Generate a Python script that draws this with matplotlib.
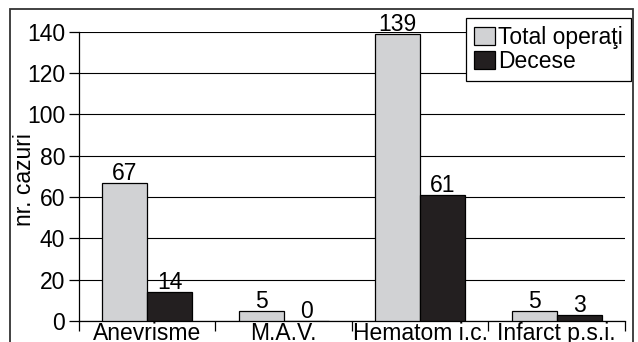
import matplotlib.pyplot as plt
from matplotlib.patches import Rectangle
import numpy as np

# --- data ---
categories = ['Anevrisme', 'M.A.V.', 'Hematom i.c.', 'Infarct p.s.i.']
total_operati = [67, 5, 139, 5]
decese = [14, 0, 61, 3]
series_names = ['Total operaţi', 'Decese']

plt.rcParams['font.family'] = ['Liberation Sans', 'DejaVu Sans']
FS = 16.5

fig = plt.figure(figsize=(6.38, 3.42), dpi=100)
ax = fig.add_axes([0.1238, 0.0614, 0.8558, 0.8459])

# frame around the whole figure (open at the bottom)
fig.patches.append(Rectangle((10 / 638, -0.2), 623 / 638, 1.2 - 9.5 / 342,
                             transform=fig.transFigure, fill=False,
                             edgecolor='#333333', linewidth=1.3))

x = np.arange(len(categories))
w = 0.33
b1 = ax.bar(x - w / 2, total_operati, w, color='#d1d2d4', edgecolor='black',
            linewidth=0.9, label=series_names[0], zorder=3)
b2 = ax.bar(x + w / 2, decese, w, color='#231f20', edgecolor='black',
            linewidth=0.9, label=series_names[1], zorder=3)

# value labels on top of each bar
for bars, vals in ((b1, total_operati), (b2, decese)):
    for bar, v in zip(bars, vals):
        ax.text(bar.get_x() + bar.get_width() / 2, v - 1.0, str(v),
                ha='center', va='bottom', fontsize=FS, zorder=4)

ax.set_xlim(-0.5, len(categories) - 0.5)
ax.set_ylim(0, 140)
ax.set_yticks(range(0, 141, 20))
ax.set_xticks(x)
ax.set_xticklabels(categories, fontsize=FS)
ax.set_xticks(np.arange(-0.5, len(categories)), minor=True)
ax.tick_params(axis='x', which='major', length=0, pad=1)
ax.tick_params(axis='x', which='minor', length=7, width=0.9, direction='out')
ax.tick_params(axis='y', labelsize=FS, length=7, width=0.9, pad=3)
ax.set_ylabel('nr. cazuri', fontsize=FS)
ax.yaxis.set_label_coords(-0.079, 0.49)

ax.grid(axis='y', color='black', linewidth=0.8, zorder=0)
ax.set_axisbelow(True)
for side in ('top', 'right'):
    ax.spines[side].set_visible(False)
for side in ('left', 'bottom'):
    ax.spines[side].set_linewidth(0.9)

leg = ax.legend(loc='upper right', bbox_to_anchor=(631 / 638, 1 - 18 / 342),
                bbox_transform=fig.transFigure,
                fontsize=FS, frameon=True, fancybox=False, framealpha=1,
                edgecolor='black', handlelength=0.9, handleheight=0.8,
                handletextpad=0.15, borderpad=0.35, labelspacing=0.05,
                borderaxespad=0)
leg.get_frame().set_linewidth(0.9)
leg.set_zorder(5)

fig.savefig('out.png', dpi=100)
